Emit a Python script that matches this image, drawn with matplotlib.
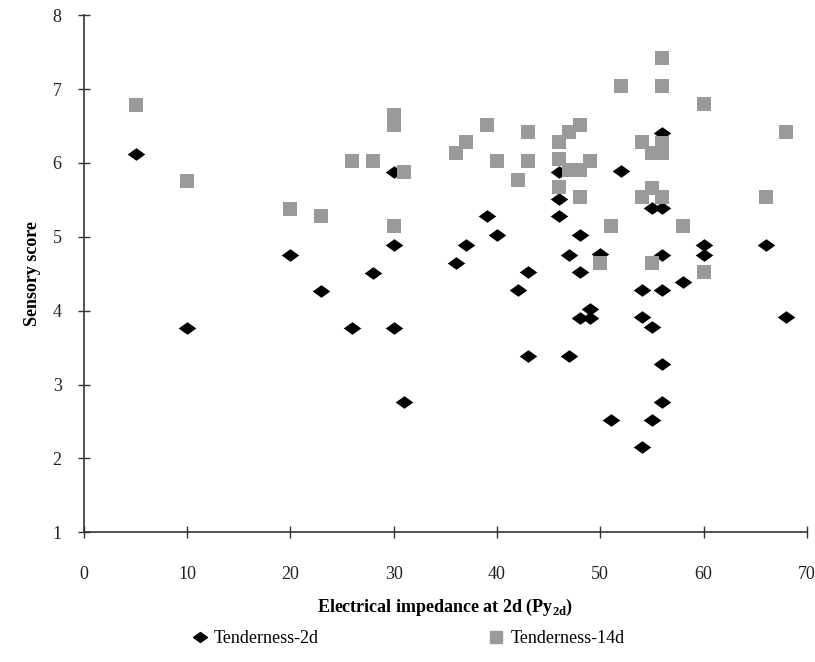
import matplotlib
matplotlib.use("Agg")
import matplotlib.pyplot as plt
from matplotlib.lines import Line2D

# Tenderness-2d (black diamonds)
t2_x = [5, 10, 20, 23, 26, 28, 30, 30, 30, 31, 36, 37, 39, 40, 42, 43, 43,
        46, 46, 46, 47, 47, 48, 48, 48, 49, 49, 50, 51, 52, 54, 54, 54,
        55, 55, 55, 56, 56, 56, 56, 56, 56, 58, 60, 60, 66, 68]
t2_y = [6.12, 3.77, 4.75, 4.27, 3.77, 4.51, 5.88, 4.89, 3.77, 2.77, 4.65, 4.89,
        5.28, 5.03, 4.28, 4.52, 3.39, 5.88, 5.51, 5.28, 4.76, 3.39, 5.03, 4.52,
        3.90, 4.02, 3.90, 4.77, 2.52, 5.89, 4.28, 3.91, 2.15, 5.39, 3.78, 2.52,
        6.40, 5.39, 4.76, 4.28, 3.28, 2.77, 4.39, 4.89, 4.76, 4.89, 3.91]

# Tenderness-14d (grey squares)
t14_x = [5, 10, 20, 23, 26, 28, 30, 30, 31, 30, 36, 37, 39, 40, 43, 43, 42,
         46, 47, 48, 46, 47, 48, 49, 46, 48, 51, 52, 56, 56, 60, 54, 55, 56,
         56, 55, 54, 56, 58, 66, 68, 50, 55, 60]
t14_y = [6.78, 5.76, 5.38, 5.28, 6.02, 6.02, 6.65, 6.52, 5.88, 5.14, 6.14, 6.28,
         6.52, 6.03, 6.42, 6.03, 5.77, 6.28, 6.42, 6.52, 6.05, 5.90, 5.90, 6.03,
         5.68, 5.54, 5.15, 7.04, 7.42, 7.04, 6.80, 6.28, 6.13, 6.13, 6.27, 5.66,
         5.54, 5.54, 5.15, 5.54, 6.42, 4.65, 4.65, 4.53]

x_ticks = [0, 10, 20, 30, 40, 50, 60, 70]
y_ticks = [1, 2, 3, 4, 5, 6, 7, 8]

plt.rcParams['font.family'] = ['Liberation Serif', 'DejaVu Serif']
plt.rcParams['mathtext.fontset'] = 'custom'
plt.rcParams['mathtext.rm'] = 'Liberation Serif'
plt.rcParams['mathtext.bf'] = 'Liberation Serif:bold'

fig = plt.figure(figsize=(8.15, 6.62), dpi=100)
ax = fig.add_axes([0.103, 0.196, 0.887, 0.781])

diamond = [(-1, 0), (0, 0.72), (1, 0), (0, -0.72), (-1, 0)]
ax.scatter(t2_x, t2_y, marker=diamond, s=160, color='black', linewidths=0, zorder=3)
ax.scatter(t14_x, t14_y, marker='s', s=110, color='#9a9a9a', linewidths=0, zorder=4)

ax.set_xlim(0, 70)
ax.set_ylim(1, 8)
ax.set_xticks(x_ticks)
ax.set_yticks(y_ticks)
ax.tick_params(direction='inout', length=8, width=1, labelsize=13, color='#333333',
               labelcolor='#222222')
ax.tick_params(axis='x', pad=20)
ax.tick_params(axis='y', pad=12)
for s in ['top', 'right']:
    ax.spines[s].set_visible(False)
for s in ['left', 'bottom']:
    ax.spines[s].set_linewidth(1.2)
    ax.spines[s].set_color('#333333')

ax.set_ylabel('Sensory score', fontsize=13, fontweight='bold', labelpad=8)
ax.set_xlabel('Electrical impedance at 2d (Py$_{\\mathbf{2d}}$)', fontsize=13,
              fontweight='bold', labelpad=10)

handles = [Line2D([], [], marker=diamond, color='black', linestyle='none', markersize=10),
           Line2D([], [], marker='s', color='#9a9a9a', linestyle='none', markersize=9)]
fig.legend(handles, ['Tenderness-2d', 'Tenderness-14d'], loc='center',
           bbox_to_anchor=(0.5, 0.035), ncol=2, frameon=False, fontsize=13,
           columnspacing=9.3, handletextpad=0.3, handlelength=1.0)

fig.savefig('out.png', dpi=100)
